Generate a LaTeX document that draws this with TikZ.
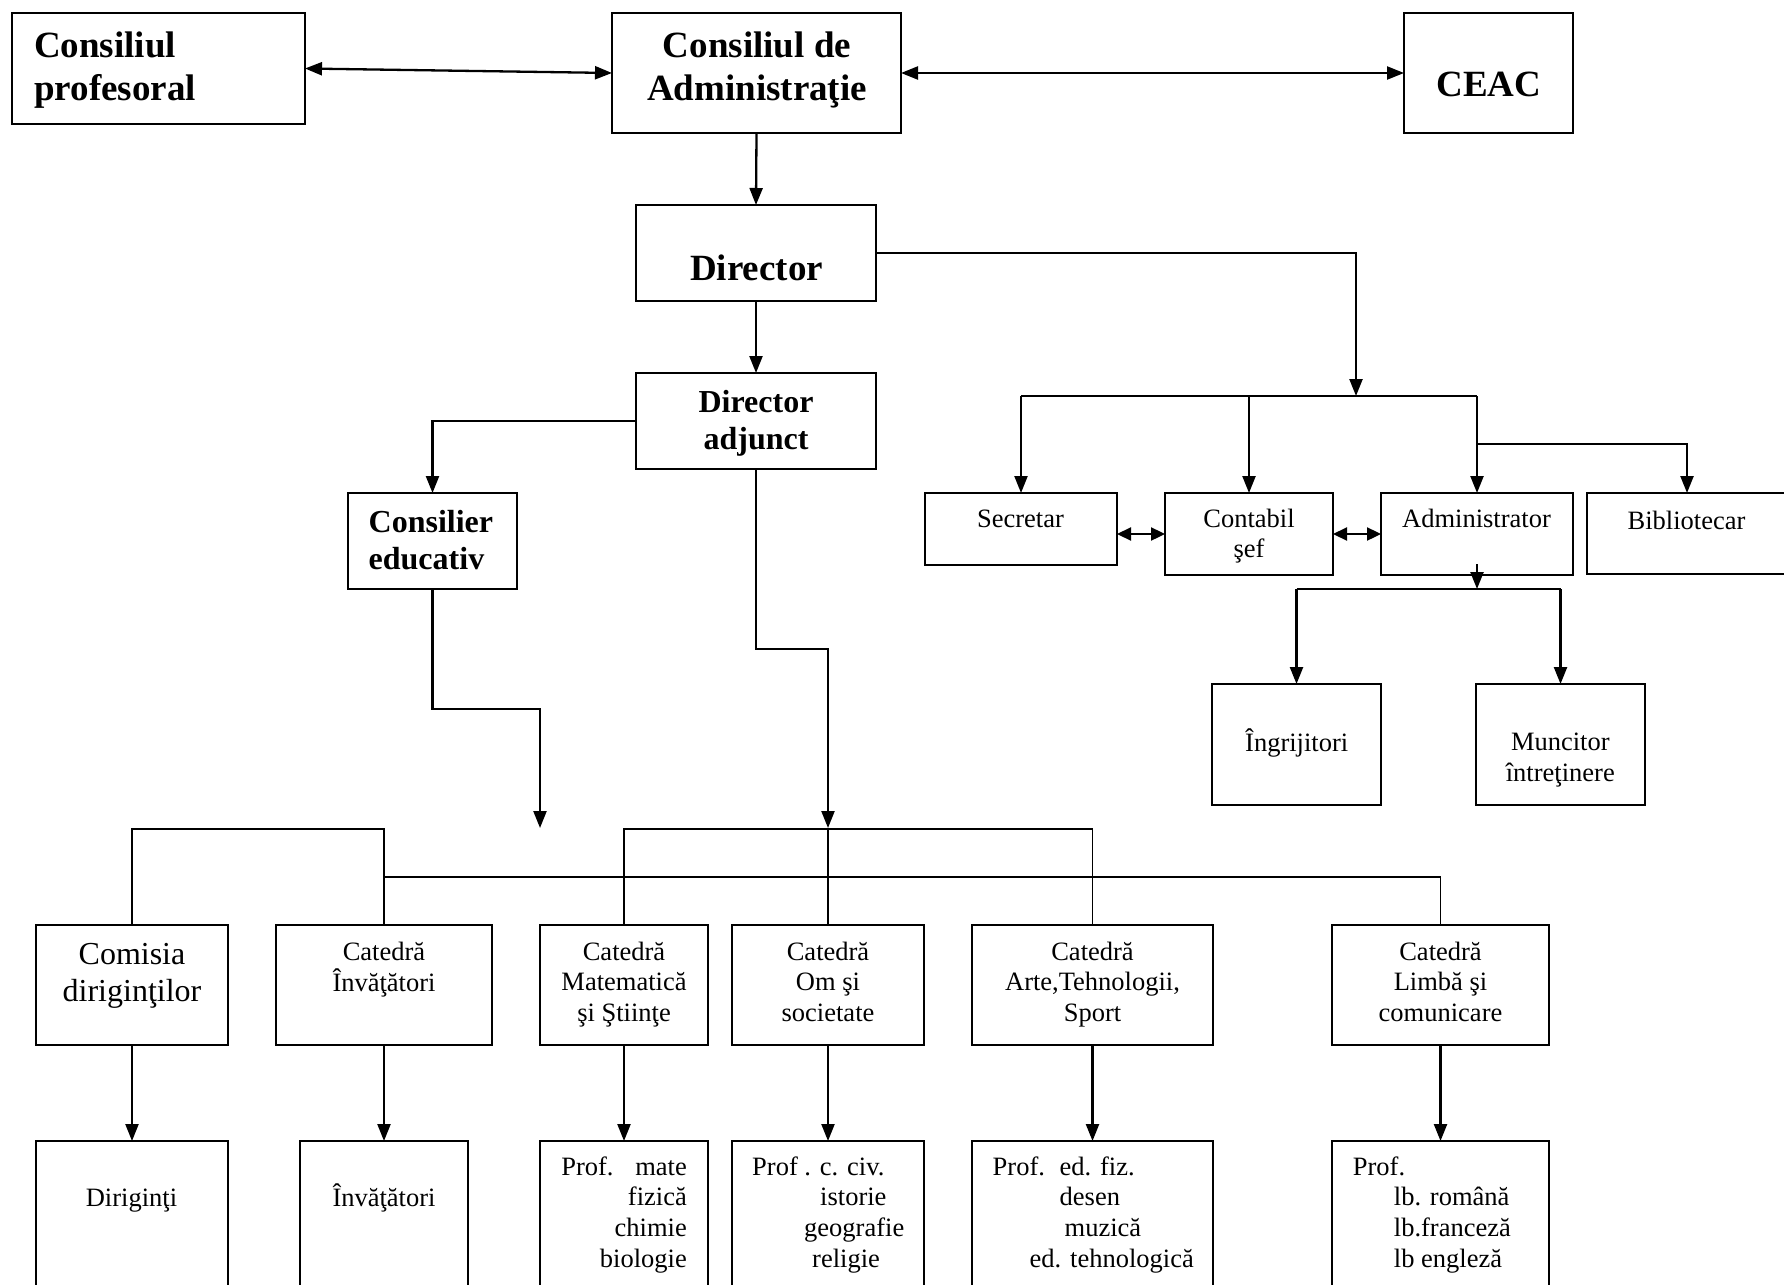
\documentclass[tikz,border=0pt]{standalone}
\usepackage{fontspec}
\setmainfont{Liberation Serif}
\usetikzlibrary{arrows.meta,calc}
\newcommand\mlines[2]{\begin{tabular}[t]{@{}#1@{}}#2\end{tabular}}
\begin{document}
\begin{tikzpicture}[x=1pt,y=-1pt,
  box/.style={draw,line width=2.5pt,inner sep=0pt,outer sep=0pt},
  conn/.style={line width=2.3pt},
  bus/.style={line width=1.9pt},
  arr/.style={conn,-{Triangle[length=17pt,width=13pt]}},
  darr/.style={conn,{Triangle[length=17pt,width=13pt]}-{Triangle[length=17pt,width=13pt]}},
  sarr/.style={conn,{Triangle[length=14pt,width=13pt]}-{Triangle[length=14pt,width=13pt]}},
  big/.style={font=\fontsize{37}{42.5}\selectfont\bfseries,inner sep=0pt},
  mid/.style={font=\fontsize{32}{37}\selectfont\bfseries,inner sep=0pt},
  txt/.style={font=\fontsize{26.5}{30.6}\selectfont,inner sep=0pt},
  txtl/.style={font=\fontsize{32}{37.4}\selectfont,inner sep=0pt},
]
\useasboundingbox (0,0) rectangle (1784,1284);
\fill[white] (0,0) rectangle (1784,1284);

% ---------- boxes ----------
\node[box,minimum width=293pt,minimum height=111pt] (cp)   at (158.5,68.5) {};
\node[box,minimum width=289pt,minimum height=120pt] (cda)  at (756.5,73) {};
\node[box,minimum width=169pt,minimum height=120pt] (ceac) at (1488.5,73) {};
\node[box,minimum width=240pt,minimum height=96pt]  (dir)  at (756,253) {};
\node[box,minimum width=240pt,minimum height=96pt]  (da)   at (756,421) {};
\node[box,minimum width=169pt,minimum height=96pt]  (ce)   at (432.5,541) {};
\node[box,minimum width=192pt,minimum height=72pt]  (sec)  at (1021,529) {};
\node[box,minimum width=168pt,minimum height=82pt]  (cont) at (1249,534) {};
\node[box,minimum width=192pt,minimum height=82pt]  (adm)  at (1477,534) {};
\node[box,minimum width=200pt,minimum height=81pt]  (bib)  at (1687,533.5) {};
\node[box,minimum width=169pt,minimum height=121pt] (ingr) at (1296.5,744.5) {};
\node[box,minimum width=169pt,minimum height=121pt] (munc) at (1560.5,744.5) {};

\node[box,minimum width=192pt,minimum height=120pt] (com)   at (132,985) {};
\node[box,minimum width=216pt,minimum height=120pt] (cinv)  at (384,985) {};
\node[box,minimum width=168pt,minimum height=120pt] (cmat)  at (624,985) {};
\node[box,minimum width=192pt,minimum height=120pt] (coms)  at (828,985) {};
\node[box,minimum width=241pt,minimum height=120pt] (carte) at (1092.5,985) {};
\node[box,minimum width=217pt,minimum height=120pt] (clim)  at (1440.5,985) {};

\node[box,minimum width=192pt,minimum height=179pt] (pdir)  at (132,1230.5) {};
\node[box,minimum width=168pt,minimum height=179pt] (pinv)  at (384,1230.5) {};
\node[box,minimum width=168pt,minimum height=179pt] (pmat)  at (624,1230.5) {};
\node[box,minimum width=192pt,minimum height=179pt] (pom)   at (828,1230.5) {};
\node[box,minimum width=241pt,minimum height=179pt] (parte) at (1092.5,1230.5) {};
\node[box,minimum width=217pt,minimum height=179pt] (plim)  at (1440.5,1230.5) {};

% ---------- texts ----------
\node[big,anchor=base west] (cpT) at (34,58) {\mlines{l}{Consiliul\\profesoral}};
\node[big,anchor=base] (cdaT) at (757,58) {\mlines{c}{Consiliul de\\Administraţie}};
\node[big,anchor=base] (ceacT) at (1489,96.7) {CEAC};
\node[big,anchor=base] (dirT) at (756.5,280) {Director};
\node[mid,anchor=base] (daT) at (756,412.7) {\mlines{c}{Director\\adjunct}};
\node[mid,anchor=base west] (ceT) at (368.5,532.7) {\mlines{l}{Consilier\\educativ}};
\node[txt,anchor=base] (secT) at (1020.5,527) {Secretar};
\node[txt,anchor=base] (contT) at (1249,527) {\mlines{c}{Contabil\\şef}};
\node[txt,anchor=base] (admT) at (1476.5,527) {Administrator};
\node[txt,anchor=base] (bibT) at (1686.5,529) {Bibliotecar};
\node[txt,anchor=base] (ingrT) at (1296.7,751.5) {Îngrijitori};
\node[txt,anchor=base] (muncT) at (1560.3,750.7) {\mlines{c}{Muncitor\\întreţinere}};

\node[txtl,anchor=base] (comT) at (132,964.3) {\mlines{c}{Comisia\\diriginţilor}};
\node[txt,anchor=base] (cinvT) at (384,960) {\mlines{c}{Catedră\\Învăţători}};
\node[txt,anchor=base] (cmatT) at (624,960) {\mlines{c}{Catedră\\Matematică\\şi Ştiinţe}};
\node[txt,anchor=base] (comsT) at (828,960) {\mlines{c}{Catedră\\Om şi\\societate}};
\node[txt,anchor=base] (carteT) at (1092.5,960) {\mlines{c}{Catedră\\Arte,Tehnologii,\\Sport}};
\node[txt,anchor=base] (climT) at (1440.5,960) {\mlines{c}{Catedră\\Limbă şi\\comunicare}};

\node[txt,anchor=base] (pdirT) at (131.5,1206.7) {Diriginţi};
\node[txt,anchor=base] (pinvT) at (384,1206.7) {Învăţători};
\node[txt,anchor=base east] (pmatT) at (687,1175.3)
  {\mlines{r}{\makebox[74pt][l]{Prof.}mate\\fizică\\chimie\\biologie}};
\node[txt,anchor=base west] (pomT) at (752,1175.3)
  {\mlines{l}{Prof . c. civ.\\\hspace*{68pt}istorie\\\hspace*{52pt}geografie\\\hspace*{60pt}religie}};
\node[txt,anchor=base west] (parteT) at (992.5,1175.3)
  {\mlines{l}{\makebox[67pt][l]{Prof.}ed. fiz.\\\hspace*{67pt}desen\\\hspace*{72pt}muzică\\\hspace*{37pt}ed. tehnologică}};
\node[txt,anchor=base west] (plimT) at (1352.7,1175.3)
  {\mlines{l}{Prof.\\\hspace*{41pt}lb. română\\\hspace*{41pt}lb.franceză\\\hspace*{41pt}lb engleză}};

% ---------- connectors ----------
\draw[darr] (cp.east) -- (cda.west);
\draw[darr] (cda.east) -- (ceac.west);
\draw[arr] (cda.south) -- (dir.north);
\draw[arr] (dir.south) -- (da.north);

\coordinate (dirR) at (1356,396);
\draw[arr] (dir.east) -| (dirR);
\draw[conn] (sec.north |- dirR) -- (adm.north |- dirR);
\draw[arr] (sec.north |- dirR) -- (sec.north);
\draw[arr] (cont.north |- dirR) -- (cont.north);
\draw[arr] (adm.north |- dirR) -- (adm.north);
\coordinate (bibS) at (1477,444);
\draw[arr] (bibS) -| (bib.north);
\draw[sarr] (sec.east |- cont.west) -- (cont.west);
\draw[sarr] (cont.east) -- (adm.west);

\coordinate (admB) at (1477,589);
\draw[arr] ([yshift=11pt]adm.south) -- (admB);
\draw[conn] (ingr.north |- admB) -- (munc.north |- admB);
\draw[arr] (ingr.north |- admB) -- (ingr.north);
\draw[arr] (munc.north |- admB) -- (munc.north);

\draw[arr] (da.west) -| (ce.north);
\coordinate (ceB) at (540,709);
\coordinate (ceTip) at (540,828);
\draw[arr] (ce.south) |- (ceB) -- (ceTip);
\coordinate (daB) at (828,649);
\coordinate (daTip) at (828,828);
\draw[arr] (da.south) |- (daB) -- (daTip);

\coordinate (busU) at (0,829);
\coordinate (busL) at (0,877);
\draw[bus] (com.north) -- (com.north |- busU) -- (cinv.north |- busU) -- (cinv.north);
\draw[bus] (cmat.north) -- (cmat.north |- busU) -- (carte.north |- busU) -- (carte.north);
\draw[bus] (daTip) -- (coms.north);
\draw[bus] (cinv.north |- busL) -- (clim.north |- busL) -- (clim.north);

\foreach \a/\b in {com/pdir,cinv/pinv,cmat/pmat,coms/pom,carte/parte,clim/plim}
  \draw[arr] (\a.south) -- (\b.north);
\end{tikzpicture}
\end{document}
